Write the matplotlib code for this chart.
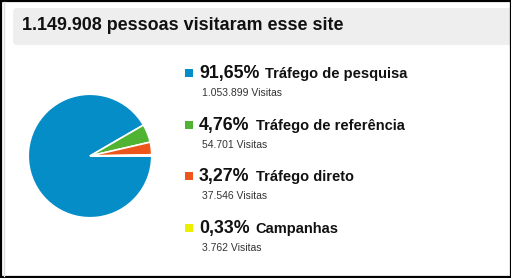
import matplotlib.pyplot as plt
from matplotlib.patches import FancyBboxPatch, Rectangle

plt.rcParams['font.family'] = ['Liberation Sans', 'DejaVu Sans']

titulo = '1.149.908 pessoas visitaram esse site'
categorias = ['Tráfego de pesquisa', 'Tráfego de referência', 'Tráfego direto', 'Campanhas']
percentuais = [91.65, 4.76, 3.27, 0.33]
visitas = ['1.053.899', '54.701', '37.546', '3.762']
cores = ['#058DC7', '#50B432', '#ED561B', '#EDEF00']

W, H = 512, 278
fig = plt.figure(figsize=(W / 100, H / 100), dpi=100)

# fundo em coordenadas de pixel
bg = fig.add_axes([0, 0, 1, 1])
bg.set_xlim(0, W)
bg.set_ylim(H, 0)
bg.axis('off')

# cabeçalho
bg.add_patch(FancyBboxPatch((13, 8), 540, 37, boxstyle='round,pad=0,rounding_size=4',
                            facecolor='#eeeeee', edgecolor='none'))
bg.text(22, 30.5, titulo, fontsize=12.9, fontweight='bold', color='#111111', va='baseline')

# moldura
bg.add_patch(Rectangle((0.8, 0.8), W - 2.2, H - 2.2, fill=False, edgecolor='black', lw=1.6))
bg.plot([3.5, 3.5], [2, H - 2], color='#dddddd', lw=1)
bg.add_patch(Rectangle((W - 1.5, 0), 2, H, facecolor='white', edgecolor='none'))

# pizza
cx, cy, r = 90, 156, 63
ax = fig.add_axes([(cx - r) / W, (H - cy - r) / H, 2 * r / W, 2 * r / H])
ax.pie(percentuais, colors=cores, startangle=0, counterclock=False, radius=1,
       wedgeprops=dict(edgecolor='white', linewidth=1.2))
ax.set_xlim(-1.02, 1.02)
ax.set_ylim(-1.02, 1.02)
ax.set_aspect('equal')

# legenda
fig.canvas.draw()
renderer = fig.canvas.get_renderer()
y0, passo = 78, 51.7
for i, (cat, p, v, c) in enumerate(zip(categorias, percentuais, visitas, cores)):
    yb = y0 + i * passo
    bg.add_patch(Rectangle((184.5, yb - 9), 8, 8, facecolor=c, edgecolor='none'))
    t = bg.text(199, yb, f'{p:.2f}%'.replace('.', ','), fontsize=12.8, fontweight='bold',
                color='#111111', va='baseline')
    x1 = t.get_window_extent(renderer).x1
    bg.text(x1 + 6, yb, cat, fontsize=10.5, fontweight='bold', color='#111111', va='baseline')
    bg.text(202, yb + 18, f'{v} Visitas', fontsize=7.5, color='#333333', va='baseline')

fig.savefig('out.png', dpi=100)
